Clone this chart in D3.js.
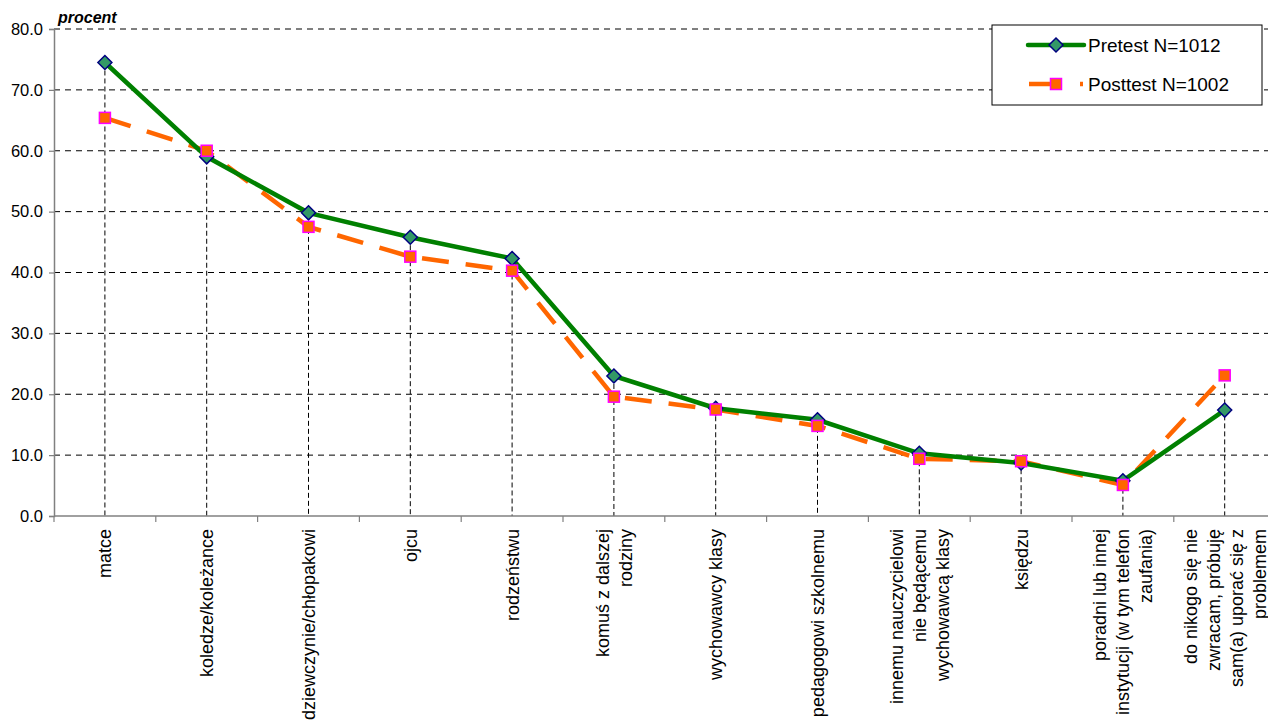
<!DOCTYPE html>
<html>
<head>
<meta charset="utf-8">
<script src="https://cdn.jsdelivr.net/npm/d3@7"></script>
<style>
  body { margin: 0; background: #fff; }
  svg { display: block; font-family: Arial, "Liberation Sans", sans-serif; }
</style>
</head>
<body>
<svg id="chart" width="1268" height="720"></svg>
<script>
// categories (lines of each rotated label)
const categories = [
  ["matce"],
  ["koledze/koleżance"],
  ["dziewczynie/chłopakowi"],
  ["ojcu"],
  ["rodzeństwu"],
  ["komuś z dalszej", "rodziny"],
  ["wychowawcy klasy"],
  ["pedagogowi szkolnemu"],
  ["innemu nauczycielowi", "nie będącemu", "wychowawcą klasy"],
  ["księdzu"],
  ["poradni lub innej", "instytucji (w tym telefon", "zaufania)"],
  ["do nikogo się nie", "zwracam, próbuję", "sam(a) uporać się z", "problemem"]
]
const pretest = [74.5, 59.0, 49.8, 45.8, 42.3, 23.0, 17.7, 15.8, 10.3, 8.7, 5.8, 17.4]
const posttest = [65.4, 60.0, 47.5, 42.6, 40.3, 19.6, 17.5, 14.8, 9.4, 9.0, 5.1, 23.1]
const yTicks = [0, 10, 20, 30, 40, 50, 60, 70, 80]
const seriesNames = ["Pretest N=1012", "Posttest N=1002"]

const svg = d3.select("#chart")

const plotLeft = 54, plotTop = 29, plotBottom = 516
const step = 101.8
const plotRight = plotLeft + step * categories.length

const x = d3.scaleBand()
    .domain(d3.range(categories.length))
    .range([plotLeft, plotRight])
const y = d3.scaleLinear()
    .domain([0, 80])
    .range([plotBottom, plotTop])
const cx = i => x(i) + x.bandwidth() / 2

// horizontal grid
svg.append("g")
    .selectAll("line")
    .data(yTicks.filter(t => t > 0))
    .join("line")
    .attr("x1", plotLeft).attr("x2", plotRight)
    .attr("y1", d => y(d)).attr("y2", d => y(d))
    .attr("stroke", "#000")
    .attr("stroke-width", 1)
    .attr("stroke-dasharray", "6,5")

// drop lines from the higher point
svg.append("g")
    .selectAll("line")
    .data(d3.range(categories.length))
    .join("line")
    .attr("x1", cx).attr("x2", cx)
    .attr("y1", i => y(Math.max(pretest[i], posttest[i])))
    .attr("y2", plotBottom)
    .attr("stroke", "#000")
    .attr("stroke-width", 1)
    .attr("stroke-dasharray", "5,3")

// y axis
const yAxis = svg.append("g")
    .attr("transform", `translate(${plotLeft},0)`)
    .call(d3.axisLeft(y).tickValues(yTicks).tickFormat(d3.format(".1f")).tickSize(5).tickPadding(6))
yAxis.select(".domain").attr("stroke", "#808080").attr("stroke-width", 1.5)
yAxis.selectAll(".tick line").attr("stroke", "#808080").attr("stroke-width", 1.2)
yAxis.selectAll(".tick text")
    .attr("font-size", 16.5)
    .attr("fill", "#000")
    .attr("font-family", "Arial, 'Liberation Sans', sans-serif")

// x axis line and ticks at band boundaries
svg.append("line")
    .attr("x1", plotLeft).attr("x2", plotRight)
    .attr("y1", plotBottom).attr("y2", plotBottom)
    .attr("stroke", "#808080").attr("stroke-width", 1.5)
svg.append("g")
    .selectAll("line")
    .data(d3.range(categories.length + 1))
    .join("line")
    .attr("x1", i => plotLeft + i * step).attr("x2", i => plotLeft + i * step)
    .attr("y1", plotBottom).attr("y2", plotBottom + 6)
    .attr("stroke", "#808080").attr("stroke-width", 1.2)

// x labels
const fs = 18, lh = 23
categories.forEach((lines, i) => {
    const n = lines.length
    lines.forEach((t, k) => {
        const bx = cx(i) + (k - (n - 1) / 2) * lh + fs * 0.36
        svg.append("text")
            .attr("transform", `translate(${bx},529) rotate(-90)`)
            .attr("text-anchor", "end")
            .attr("font-size", fs)
            .text(t)
    })
})

// lines
const lineGen = d3.line().x((d, i) => cx(i)).y(d => y(d))
svg.append("path")
    .datum(posttest)
    .attr("d", lineGen)
    .attr("fill", "none")
    .attr("stroke", "#FF6600")
    .attr("stroke-width", 4.5)
    .attr("stroke-dasharray", "27,17")
svg.append("path")
    .datum(pretest)
    .attr("d", lineGen)
    .attr("fill", "none")
    .attr("stroke", "#008000")
    .attr("stroke-width", 4.5)

// markers
const diamond = (px, py) => `M${px},${py - 7}L${px + 7},${py}L${px},${py + 7}L${px - 7},${py}Z`
svg.append("g")
    .selectAll("path")
    .data(pretest)
    .join("path")
    .attr("d", (d, i) => diamond(cx(i), y(d)))
    .attr("fill", "#339966")
    .attr("stroke", "#000080")
    .attr("stroke-width", 1.5)
svg.append("g")
    .selectAll("rect")
    .data(posttest)
    .join("rect")
    .attr("x", (d, i) => cx(i) - 5.5)
    .attr("y", d => y(d) - 5.5)
    .attr("width", 11).attr("height", 11)
    .attr("fill", "#FF6600")
    .attr("stroke", "#FF00FF")
    .attr("stroke-width", 1.5)

// y unit label
svg.append("text")
    .attr("x", 58).attr("y", 23)
    .attr("font-size", 16)
    .attr("font-weight", "bold")
    .attr("font-style", "italic")
    .text("procent")

// legend
const lg = svg.append("g")
lg.append("rect")
    .attr("x", 992).attr("y", 25)
    .attr("width", 270).attr("height", 80)
    .attr("fill", "#fff")
    .attr("stroke", "#000")
    .attr("stroke-width", 1)
lg.append("line")
    .attr("x1", 1028).attr("x2", 1084)
    .attr("y1", 45).attr("y2", 45)
    .attr("stroke", "#008000").attr("stroke-width", 4.5).attr("stroke-linecap", "round")
lg.append("path")
    .attr("d", diamond(1056, 45))
    .attr("fill", "#339966").attr("stroke", "#000080").attr("stroke-width", 1.5)
lg.append("line")
    .attr("x1", 1029).attr("x2", 1083)
    .attr("y1", 84).attr("y2", 84)
    .attr("stroke", "#FF6600").attr("stroke-width", 4.5)
    .attr("stroke-dasharray", "27,24")
lg.append("rect")
    .attr("x", 1050.5).attr("y", 78.5)
    .attr("width", 11).attr("height", 11)
    .attr("fill", "#FF6600").attr("stroke", "#FF00FF").attr("stroke-width", 1.5)
lg.selectAll("text.lbl")
    .data(seriesNames)
    .join("text")
    .attr("class", "lbl")
    .attr("x", 1088)
    .attr("y", (d, i) => i === 0 ? 52 : 91)
    .attr("font-size", 19)
    .text(d => d)
</script>
</body>
</html>
